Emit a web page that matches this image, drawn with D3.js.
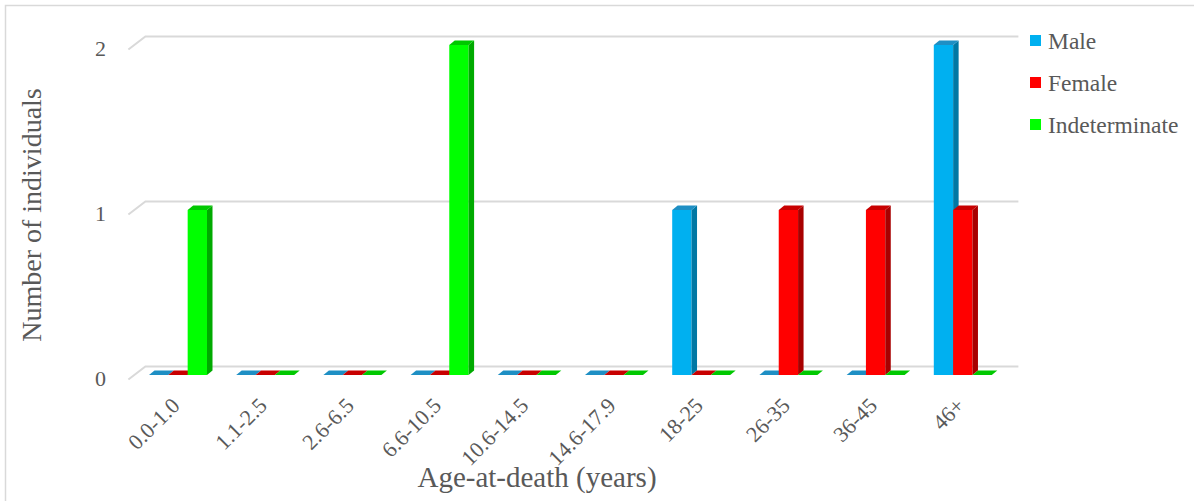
<!DOCTYPE html>
<html>
<head>
<meta charset="utf-8">
<script src="https://cdn.jsdelivr.net/npm/d3@7"></script>
<style>
  html, body { margin: 0; padding: 0; background: #fff; }
  svg { display: block; }
  text { font-family: "Liberation Serif", "Times New Roman", serif; fill: #595959; }
</style>
</head>
<body>
<svg id="chart" width="1194" height="501"></svg>
<script>
const categories = ["0.0-1.0", "1.1-2.5", "2.6-6.5", "6.6-10.5", "10.6-14.5", "14.6-17.9", "18-25", "26-35", "36-45", "46+"];
const seriesNames = ["Male", "Female", "Indeterminate"];
const maleValues = [0, 0, 0, 0, 0, 0, 1, 0, 0, 2];
const femaleValues = [0, 0, 0, 0, 0, 0, 0, 1, 1, 1];
const indeterminateValues = [1, 0, 0, 2, 0, 0, 0, 0, 0, 0];
const yTicks = [0, 1, 2];
const xTitle = "Age-at-death (years)";
const yTitle = "Number of individuals";

const seriesValues = [maleValues, femaleValues, indeterminateValues];
const colors = {
  Male: { front: "#00B0F0", side: "#0078A4", top: "#1E8FC4" },
  Female: { front: "#FF0000", side: "#A80000", top: "#C80000" },
  Indeterminate: { front: "#00FF00", side: "#00AA00", top: "#00C800" }
};

const svg = d3.select("#chart");

// border
svg.append("rect").attr("x", 5.5).attr("y", 5.5).attr("width", 1200).attr("height", 520)
  .attr("fill", "none").attr("stroke", "#D9D9D9").attr("stroke-width", 1.5);

// scales (bar front plane)
const x0 = d3.scaleBand().domain(categories).range([134.4, 1006.4]).padding(0);
const x1 = d3.scaleBand().domain(seriesNames).range([14.6, 72.6]).padding(0);
const y = d3.scaleLinear().domain([0, 2]).range([375, 45]);

// depth vectors
const barDepth = [5.5, -4.5];
const backOff = [11, -8.5];
const frontOff = [-6, 4.5];

// gridlines (back wall + side wall)
const gl = svg.append("g");
yTicks.forEach(t => {
  const yy = y(t);
  const xl = x0.range()[0], xr = x0.range()[1];
  const pts = [
    [xl + frontOff[0], yy + frontOff[1]],
    [xl + backOff[0], yy + backOff[1]],
    [xr + backOff[0] + 1, yy + backOff[1]]
  ];
  gl.append("path").attr("d", d3.line()(pts)).attr("fill", "none")
    .attr("stroke", "#D9D9D9").attr("stroke-width", 2);
});

// y tick labels
svg.append("g").selectAll("text").data(yTicks).join("text")
  .attr("x", 106).attr("y", d => y(d) + 11)
  .attr("text-anchor", "end").attr("font-size", 22).text(d => d);

// bars
const bars = svg.append("g");
categories.forEach((c, i) => {
  seriesNames.forEach((s, j) => {
    const v = seriesValues[j][i];
    const xa = x0(c) + x1(s), xb = xa + x1.bandwidth();
    const yt = y(v), yb = y(0);
    const [dx, dy] = barDepth;
    const col = colors[s];
    if (v > 0) {
      bars.append("path").attr("fill", col.front)
        .attr("d", d3.line()([[xa, yb], [xb, yb], [xb, yt], [xa, yt]]) + "Z");
      bars.append("path").attr("fill", col.side)
        .attr("d", d3.line()([[xb, yb], [xb + dx, yb + dy], [xb + dx, yt + dy], [xb, yt]]) + "Z");
    }
    bars.append("path").attr("fill", col.top)
      .attr("d", d3.line()([[xa, yt], [xb, yt], [xb + dx, yt + dy], [xa + dx, yt + dy]]) + "Z");
  });
});

// x tick labels
svg.append("g").selectAll("text").data(categories).join("text")
  .attr("text-anchor", "end").attr("font-size", 22)
  .attr("transform", d => `translate(${x0(d) + x0.bandwidth() / 2 + 3},${407}) rotate(-45)`)
  .text(d => d);

// axis titles
svg.append("text").attr("x", 537).attr("y", 487).attr("text-anchor", "middle")
  .attr("font-size", 29).text(xTitle);
svg.append("text").attr("transform", "translate(41,215) rotate(-90)")
  .attr("text-anchor", "middle").attr("font-size", 28).text(yTitle);

// legend
const lg = svg.append("g");
seriesNames.forEach((s, j) => {
  const yy = 41 + j * 42;
  lg.append("rect").attr("x", 1030).attr("y", yy - 6).attr("width", 11).attr("height", 11)
    .attr("fill", colors[s].front);
  lg.append("text").attr("x", 1048).attr("y", yy + 8).attr("font-size", 23.5).text(s);
});
</script>
</body>
</html>
